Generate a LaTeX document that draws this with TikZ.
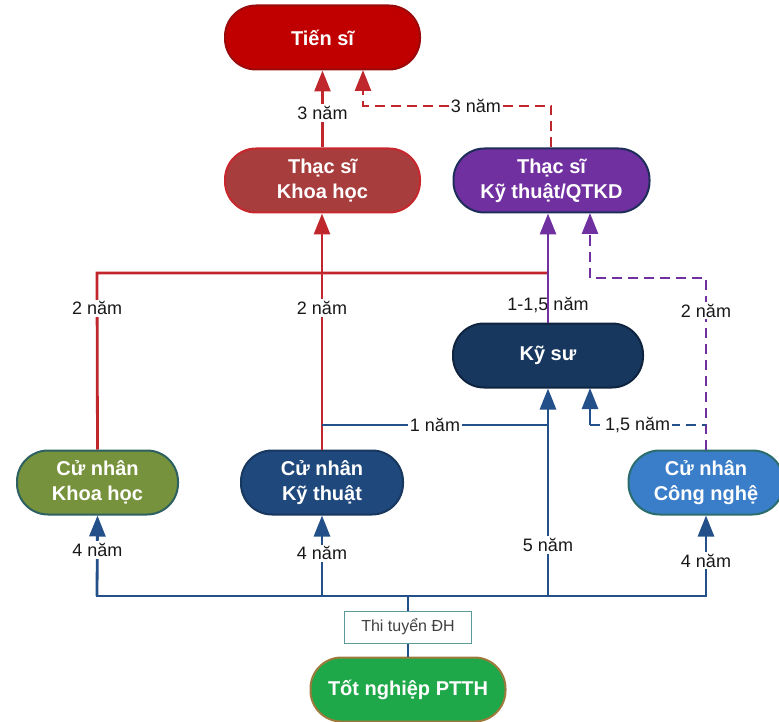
\documentclass[tikz,border=0pt]{standalone}
\usepackage{fontspec}
\setmainfont{Liberation Sans}
\usetikzlibrary{arrows.meta}

\definecolor{redline}{HTML}{C0272D}
\definecolor{blueline}{HTML}{24508A}
\definecolor{purpline}{HTML}{7030A0}
\definecolor{tsfill}{HTML}{C00000}
\definecolor{tsborder}{HTML}{9A0A0A}
\definecolor{tskhfill}{HTML}{A83D3D}
\definecolor{tskhborder}{HTML}{C8282D}
\definecolor{tsktfill}{HTML}{7030A0}
\definecolor{tsktborder}{HTML}{1F2D5A}
\definecolor{ksfill}{HTML}{17375E}
\definecolor{ksborder}{HTML}{0F243E}
\definecolor{cnkhfill}{HTML}{76923C}
\definecolor{cnkhborder}{HTML}{2D6060}
\definecolor{cnktfill}{HTML}{1F497D}
\definecolor{cnktborder}{HTML}{17375E}
\definecolor{cncnfill}{HTML}{3A7DC9}
\definecolor{cncnborder}{HTML}{2B6C6C}
\definecolor{tnfill}{HTML}{1FA84A}
\definecolor{tnborder}{HTML}{9C7A3C}
\definecolor{thiborder}{HTML}{5A9A9A}

\begin{document}
\begin{tikzpicture}[x=1pt,y=-1pt,
  stage/.style={rectangle, rounded corners=31pt, minimum height=64pt,
    line width=2pt, text=white, align=center,
    font=\bfseries\fontsize{20}{25}\selectfont},
  lbl/.style={fill=white, inner sep=2pt, text=black!90,
    font=\fontsize{18}{20}\selectfont},
  lblclear/.style={inner sep=2pt, text=black!90,
    font=\fontsize{18}{20}\selectfont},
  tip/.style={-{Triangle[width=16pt,length=21pt]}},
  redc/.style={draw=redline, line width=2.8pt},
  bluec/.style={draw=blueline, line width=2.8pt},
  purpc/.style={draw=purpline, line width=2.8pt},
  dashc/.style={dash pattern=on 10pt off 6pt}
]
\useasboundingbox (0,0) rectangle (779,722);

% stages of the study path
\node[stage, fill=tsfill, draw=tsborder, minimum width=195pt] (ts) at (322.5,37.5) {Tiến sĩ};
\node[stage, fill=tskhfill, draw=tskhborder, minimum width=195pt] (tskh) at (322.5,180.5) {Thạc sĩ\\Khoa học};
\node[stage, fill=tsktfill, draw=tsktborder, minimum width=196pt] (tskt) at (551.5,180.5) {Thạc sĩ\\Kỹ thuật/QTKD};
\node[stage, fill=ksfill, draw=ksborder, minimum width=190pt] (ks) at (548,355.5) {Kỹ sư};
\node[stage, fill=cnkhfill, draw=cnkhborder, minimum width=161pt] (cnkh) at (97.5,482.5) {Cử nhân\\Khoa học};
\node[stage, fill=cnktfill, draw=cnktborder, minimum width=162pt] (cnkt) at (322,482.5) {Cử nhân\\Kỹ thuật};
\node[stage, fill=cncnfill, draw=cncnborder, minimum width=155pt] (cncn) at (706,482.5) {Cử nhân\\Công nghệ};
\node[stage, fill=tnfill, draw=tnborder, minimum width=195pt] (tn) at (408,689.5) {Tốt nghiệp PTTH};
\node[draw=thiborder, line width=1pt, fill=white, minimum width=127pt, minimum height=32pt,
      text=black!75, font=\fontsize{16}{18}\selectfont] (thi) at (408,627) {Thi tuyển ĐH};

% junction points
\coordinate (busc) at (408,596);
\coordinate (bus1) at (97,596);
\coordinate (bus2) at (322,596);
\coordinate (bus3) at (548,596);
\coordinate (bus4) at (706,596);
\coordinate (redk) at (97,273);
\coordinate (redr) at (548,273);
\coordinate (onel) at (322,425);
\coordinate (oner) at (548,425);
\coordinate (cnup) at (706,278);
\coordinate (cnturn) at (590,278);
\coordinate (cntop) at (590,213);
\coordinate (halfr) at (706,425);
\coordinate (halfl) at (590,425);
\coordinate (halftop) at (590,388);
\coordinate (tskup) at (551,106);
\coordinate (tskturn) at (363,106);
\coordinate (tsin) at (363,70);

% entrance exam and bus
\draw[bluec] (tn.north) -- (thi.south);
\draw[bluec] (thi.north) -- (busc);
\draw[bluec, line cap=rect] (bus1) -- (bus4);
\draw[bluec, tip] (bus1) -- node[lbl, pos=0.57] {4 năm} (cnkh.south);
\draw[bluec, tip] (bus2) -- node[lbl, pos=0.53] {4 năm} (cnkt.south);
\draw[bluec, tip] (bus3) -- node[lbl, pos=0.245] {5 năm} (bus3 |- ks.south);
\draw[bluec, tip] (bus4) -- node[lbl, pos=0.44] {4 năm} (cncn.south);

% bachelor to master of science
\draw[redc] (cnkh.north) -- node[lbl, pos=0.80] {2 năm} (redk) -- (redr);
\draw[redc, tip] (cnkt.north) -- node[lbl, pos=0.60] {2 năm} (cnkt.north |- tskh.south);

% bachelor of engineering to engineer
\draw[bluec] (onel) -- node[lbl] {1 năm} (oner);

% engineer to master of engineering
\node[lblclear] (kslbl) at (548,305) {1-1,5 năm};
\draw[purpc, tip] (ks.north) -- (ks.north |- tskt.south);

% bachelor of technology
\draw[purpc, dashc, tip] (cncn.north) -- node[lbl, pos=0.81] {2 năm} (cnup) -- (cnturn) -- (cntop);
\draw[bluec, dashc] (halfl) -- node[lbl, pos=0.41] {1,5 năm} (halfr);
\draw[bluec, tip] (halfl) -- (halftop);

% masters to doctorate
\draw[redc, tip] (tskh.north) -- node[lbl, pos=0.45] {3 năm} (ts.south);
\draw[redc, dashc, tip] (tskup |- tskt.north) -- (tskup) -- node[lbl, pos=0.40] {3 năm} (tskturn) -- (tsin);
\end{tikzpicture}
\end{document}
